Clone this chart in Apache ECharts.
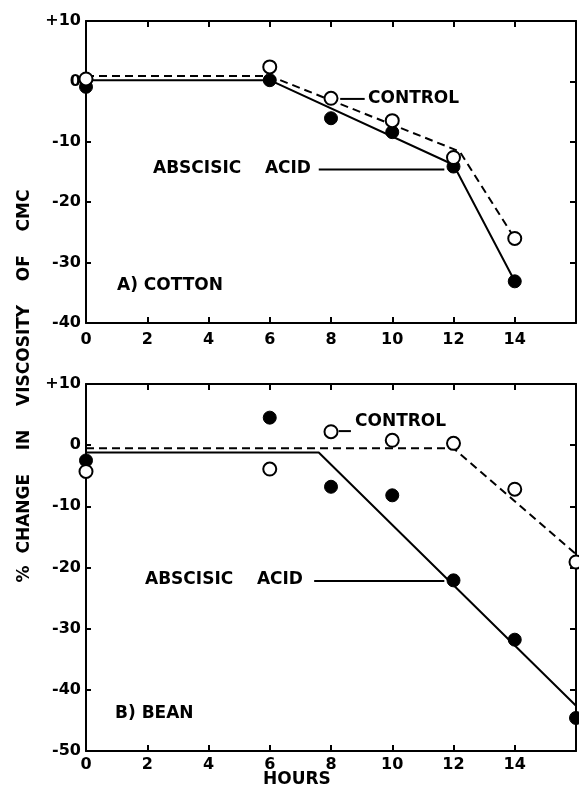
<!DOCTYPE html>
<html>
<head>
<meta charset="utf-8">
<script src="https://cdn.jsdelivr.net/npm/echarts@6/dist/echarts.min.js"></script>
<style>
html,body{margin:0;padding:0;background:#fff;}
#c{width:579px;height:787px;}
</style>
</head>
<body>
<div id="c"></div>
<script>
// ---- data (hours, % change in viscosity of CMC) ----
var hours = [0, 6, 8, 10, 12, 14];
var hoursBean = [0, 6, 8, 10, 12, 14, 16];
var xTicks = [0, 2, 4, 6, 8, 10, 12, 14];

// A) Cotton
var cottonControl  = [0.4, 2.4, -2.8, -6.5, -12.6, -26.0];
var cottonAbscisic = [-0.9, 0.2, -6.1, -8.4, -14.1, -33.1];
var cottonControlFitX = [0, 6, 12.2, 14];
var cottonControlFitY = [0.9, 0.9, -11.6, -26.0];
var cottonAbscisicFitX = [0, 6, 12, 14];
var cottonAbscisicFitY = [0.2, 0.2, -13.8, -33.1];

// B) Bean
var beanControl  = [-4.3, -3.9, 2.2, 0.8, 0.3, -7.2, -19.1];
var beanAbscisic = [-2.5, 4.5, -6.8, -8.2, -22.1, -31.8, -44.6];
var beanControlFitX = [0, 12, 16];
var beanControlFitY = [-0.5, -0.5, -17.8];
var beanAbscisicFitX = [0, 7.6, 16];
var beanAbscisicFitY = [-1.2, -1.2, -42.6];

// leader lines for annotations [x1, x2, y]
var cottonControlLeader  = [8.3, 9.1, -2.9];
var cottonAbscisicLeader = [7.6, 11.7, -14.6];
var beanControlLeader    = [8.25, 8.65, 2.3];
var beanAbscisicLeader   = [7.45, 11.7, -22.2];

function pairs(xs, ys){ return xs.map(function(x,i){ return [x, ys[i]]; }); }

var FONT = 'DejaVu Sans';
var black = '#000';

function xAxisBottom(grid, margin){
  return {gridIndex:grid, type:'value', min:0, max:16, interval:2, position:'bottom',
    axisLine:{onZero:false, lineStyle:{color:black, width:2}},
    axisTick:{inside:true, length:6, lineStyle:{color:black, width:2}},
    axisLabel:{color:black, fontSize:16, fontWeight:'bold', fontFamily:FONT, margin:margin,
      formatter:function(v){ return xTicks.indexOf(v) >= 0 ? String(v) : ''; }},
    splitLine:{show:false}};
}
function xAxisTop(grid){
  return {gridIndex:grid, type:'value', min:0, max:16, interval:2, position:'top',
    axisLine:{onZero:false, lineStyle:{color:black, width:2}},
    axisTick:{inside:true, length:6, lineStyle:{color:black, width:2}},
    axisLabel:{show:false}, splitLine:{show:false}};
}
function yAxisLeft(grid, min){
  return {gridIndex:grid, type:'value', min:min, max:10, interval:10, position:'left',
    axisLine:{onZero:false, lineStyle:{color:black, width:2}},
    axisTick:{inside:true, length:5, lineStyle:{color:black, width:2}},
    axisLabel:{color:black, fontSize:16, fontWeight:'bold', fontFamily:FONT, margin:5,
      formatter:function(v){ return v > 0 ? '+' + v : String(v); }},
    splitLine:{show:false}};
}
function yAxisRight(grid, min){
  return {gridIndex:grid, type:'value', min:min, max:10, interval:10, position:'right',
    axisLine:{onZero:false, lineStyle:{color:black, width:2}},
    axisTick:{inside:true, length:6, lineStyle:{color:black, width:2}},
    axisLabel:{show:false}, splitLine:{show:false}};
}

function fitLine(xi, yi, xs, ys, dashed){
  return {type:'line', xAxisIndex:xi, yAxisIndex:yi, data:pairs(xs, ys), symbol:'none',
    silent:true, z:2, animation:false,
    lineStyle:{color:black, width:2, opacity:1, type: dashed ? [8,5] : 'solid'}};
}
function leader(xi, yi, l){
  return {type:'line', xAxisIndex:xi, yAxisIndex:yi, data:[[l[0], l[2]], [l[1], l[2]]],
    symbol:'none', silent:true, z:2, animation:false, lineStyle:{color:black, width:2, opacity:1}};
}
function pts(xi, yi, xs, ys, open){
  return {type:'scatter', xAxisIndex:xi, yAxisIndex:yi, data:pairs(xs, ys), symbol:'circle',
    symbolSize:13, z:5, animation:false, silent:true,
    itemStyle: open ? {color:'#fff', borderColor:black, borderWidth:2, opacity:1}
                    : {color:black, borderColor:black, borderWidth:1, opacity:1}};
}
function txt(left, cy, s){
  return {type:'text', left:left, top:cy - 10, style:{text:s, fill:black,
    font:'bold 17px "' + FONT + '"'}};
}

var option = {
  backgroundColor:'#fff',
  animation:false,
  grid:[
    {left:86, top:21, right:0, height:302, containLabel:false},
    {left:86, top:384, right:0, height:367, containLabel:false}
  ],
  xAxis:[xAxisBottom(0, 9), xAxisTop(0), xAxisBottom(1, 6), xAxisTop(1)],
  yAxis:[yAxisLeft(0, -40), yAxisRight(0, -40), yAxisLeft(1, -50), yAxisRight(1, -50)],
  series:[
    fitLine(0, 0, cottonControlFitX, cottonControlFitY, true),
    fitLine(0, 0, cottonAbscisicFitX, cottonAbscisicFitY, false),
    leader(0, 0, cottonControlLeader),
    leader(0, 0, cottonAbscisicLeader),
    pts(0, 0, hours, cottonAbscisic, false),
    pts(0, 0, hours, cottonControl, true),

    fitLine(2, 2, beanControlFitX, beanControlFitY, true),
    fitLine(2, 2, beanAbscisicFitX, beanAbscisicFitY, false),
    leader(2, 2, beanControlLeader),
    leader(2, 2, beanAbscisicLeader),
    pts(2, 2, hoursBean, beanAbscisic, false),
    pts(2, 2, hoursBean, beanControl, true)
  ],
  graphic:[
    txt(368, 100, 'CONTROL'),
    txt(153, 170, 'ABSCISIC    ACID'),
    txt(117, 287, 'A) COTTON'),
    txt(355, 423, 'CONTROL'),
    txt(145, 581, 'ABSCISIC    ACID'),
    txt(115, 715, 'B) BEAN'),
    {type:'text', left:263, top:771, style:{text:'HOURS', fill:black, font:'bold 17px "' + FONT + '"'}},
    {type:'text', x:25, y:386, rotation:Math.PI/2,
      style:{text:'%  CHANGE    IN    VISCOSITY    OF    CMC', fill:black,
        font:'bold 17px "' + FONT + '"', align:'center', verticalAlign:'middle'}}
  ]
};

var chart = echarts.init(document.getElementById('c'), null, {renderer:'canvas'});
chart.setOption(option);
</script>
</body>
</html>
